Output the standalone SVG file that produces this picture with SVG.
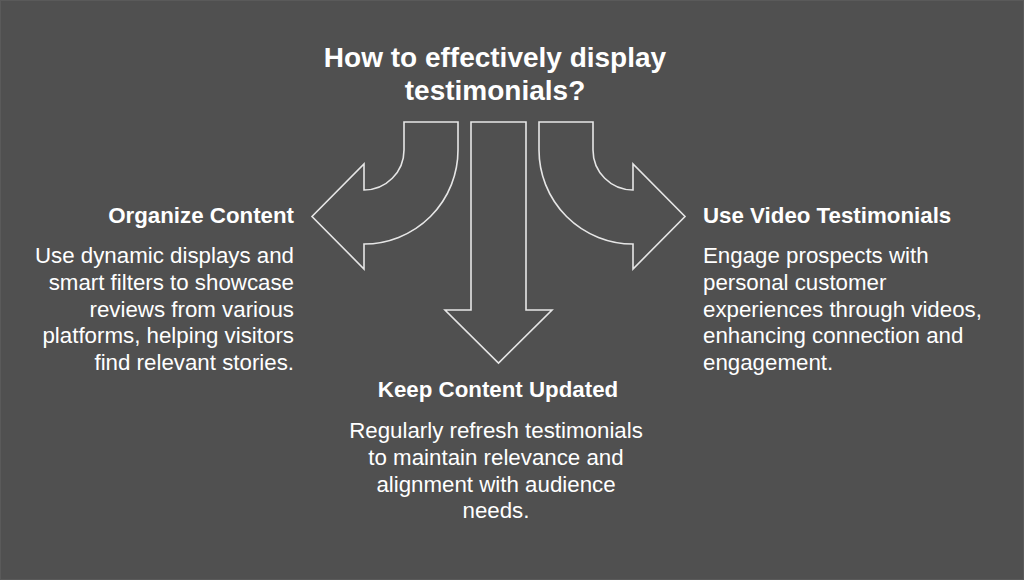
<svg xmlns="http://www.w3.org/2000/svg" width="1024" height="580" viewBox="0 0 1024 580">
<style>
.arrow{fill:none;stroke:#e6e6e6;stroke-width:1.6;stroke-linejoin:miter}
.title{font-family:"Liberation Sans",Arial,sans-serif;font-weight:bold;font-size:28px;fill:#ffffff}
.head{font-family:"Liberation Sans",Arial,sans-serif;font-weight:bold;font-size:22.3px;fill:#ffffff}
.body{font-family:"Liberation Sans",Arial,sans-serif;font-size:22.3px;fill:#ffffff}
</style>
<rect x="0" y="0" width="1024" height="580" fill="#505050"/>
<rect x="0.5" y="0.5" width="1023" height="579" fill="none" stroke="#5a5a5a" stroke-width="1"/>
<g id="title">
<text class="title" text-anchor="middle" x="495" y="67">How to effectively display</text>
<text class="title" text-anchor="middle" x="495" y="100">testimonials?</text>
</g>
<g id="connectors">
<path class="arrow" d="M458,122 L404,122 L404,150 A40,40 0 0 1 364,190 L364,164 L312,216.5 L364,269 L364,244 A94,94 0 0 0 458,150 Z"/>
<path class="arrow" d="M471,122 L526,122 L526,310 L552,310 L498.5,363 L445,310 L471,310 Z"/>
<path class="arrow" d="M539,122 L593,122 L593,150 A40,40 0 0 0 633,190 L633,164 L685,216.5 L633,269 L633,244 A94,94 0 0 1 539,150 Z"/>
</g>
<g id="organize-content">
<text class="head" text-anchor="end" x="294" y="223">Organize Content</text>
<text class="body" text-anchor="end" x="294" y="263">Use dynamic displays and</text>
<text class="body" text-anchor="end" x="294" y="290">smart filters to showcase</text>
<text class="body" text-anchor="end" x="294" y="317">reviews from various</text>
<text class="body" text-anchor="end" x="294" y="343">platforms, helping visitors</text>
<text class="body" text-anchor="end" x="294" y="370">find relevant stories.</text>
</g>
<g id="use-video-testimonials">
<text class="head" x="703" y="223">Use Video Testimonials</text>
<text class="body" x="703" y="263">Engage prospects with</text>
<text class="body" x="703" y="290">personal customer</text>
<text class="body" x="703" y="317">experiences through videos,</text>
<text class="body" x="703" y="343">enhancing connection and</text>
<text class="body" x="703" y="370">engagement.</text>
</g>
<g id="keep-content-updated">
<text class="head" text-anchor="middle" x="498" y="397">Keep Content Updated</text>
<text class="body" text-anchor="middle" x="496" y="438">Regularly refresh testimonials</text>
<text class="body" text-anchor="middle" x="496" y="465">to maintain relevance and</text>
<text class="body" text-anchor="middle" x="496" y="492">alignment with audience</text>
<text class="body" text-anchor="middle" x="496" y="518">needs.</text>
</g>
</svg>
